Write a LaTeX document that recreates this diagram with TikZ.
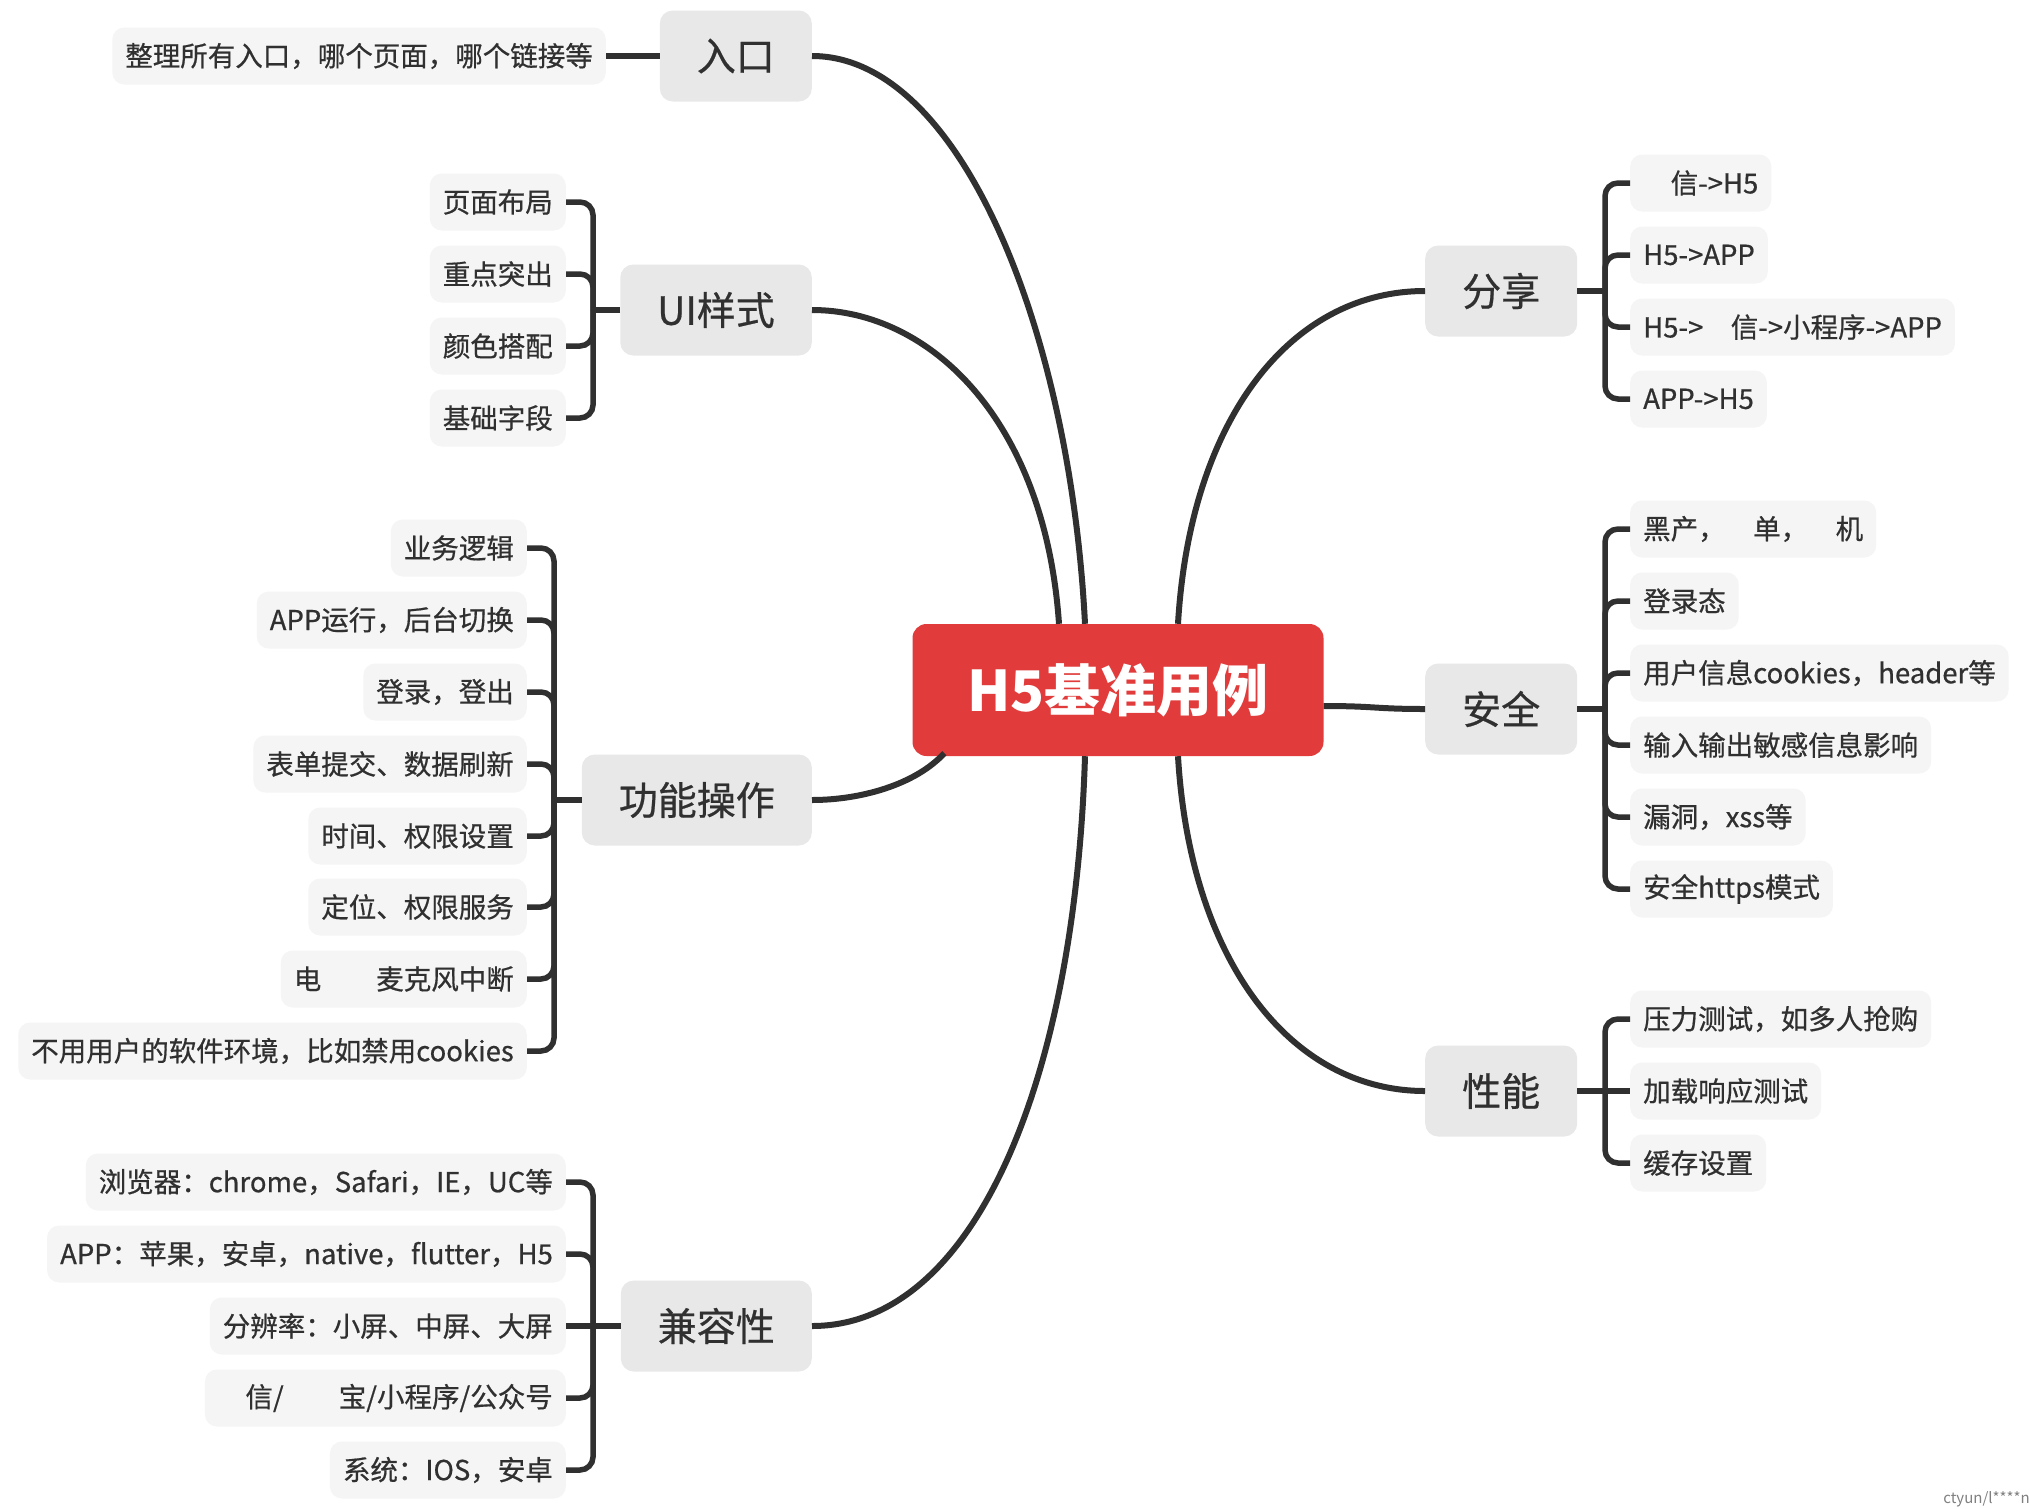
\documentclass[tikz,border=0pt]{standalone}
\usepackage{fontspec}
\newfontfamily\cjk{Noto Sans CJK SC}
\newfontfamily\cjkm{Noto Sans CJK SC}[FakeBold=0.6]
\usetikzlibrary{calc}
\definecolor{cred}{RGB}{225,59,59}
\definecolor{branchfill}{RGB}{232,232,232}
\definecolor{leaffill}{RGB}{245,245,245}
\definecolor{ink}{RGB}{48,48,48}
\definecolor{wm}{RGB}{128,128,128}
\tikzset{
  centernode/.style={fill=cred, rounded corners=14, minimum width=411, minimum height=132, text=white, font=\cjk\bfseries\fontsize{56}{64}\selectfont, inner sep=0},
  branchnode/.style={fill=branchfill, rounded corners=13, minimum height=91, inner xsep=37, inner ysep=0, text=ink, font=\cjkm\fontsize{39}{46}\selectfont},
  leafnode/.style={fill=leaffill, rounded corners=12, minimum height=57, inner xsep=13, inner ysep=0, text=ink, font=\cjkm\fontsize{27.5}{33}\selectfont},
  mainline/.style={draw=ink, line width=6},
  leafline/.style={draw=ink, line width=5.5, rounded corners=13},
}
\begin{document}
\begin{tikzpicture}[x=1pt,y=-1pt]
\useasboundingbox[fill=white] (0,0) rectangle (2030,1508);

% center
\node[centernode] (c) at (1118,690) {H5基准用例};

% branches
\node[branchnode, anchor=east] (ruk) at (812,56) {入口};
\node[branchnode, anchor=east] (ui) at (812,310) {UI样式};
\node[branchnode, anchor=east] (func) at (812,800) {功能操作};
\node[branchnode, anchor=east] (compat) at (812,1326) {兼容性};
\node[branchnode, anchor=west] (share) at (1425,291) {分享};
\node[branchnode, anchor=west] (sec) at (1425,709) {安全};
\node[branchnode, anchor=west] (perf) at (1425,1091) {性能};

% main curves
\draw[mainline] ($(c.north)+(-33,0)$) .. controls (1070,330) and (960,56) .. (ruk.east);
\draw[mainline] ($(c.north)+(-59,0)$) .. controls (1045,420) and (930,310) .. (ui.east);
\draw[mainline] ($(c.south west)+(32,-3)$) .. controls (915,785) and (860,800) .. (func.east);
\draw[mainline] ($(c.south)+(-33,0)$) .. controls (1075,1080) and (975,1326) .. (compat.east);
\draw[mainline] ($(c.north)+(60,0)$) .. controls (1190,420) and (1290,291) .. (share.west);
\draw[mainline] ($(c.east)+(0,16)$) .. controls (1375,706) and (1375,709) .. (sec.west);
\draw[mainline] ($(c.south)+(60,0)$) .. controls (1190,960) and (1290,1091) .. (perf.west);

% 入口 leaf
\node[leafnode, anchor=east] (r1) at (606,56) {整理所有入口，哪个页面，哪个链接等};
\draw[leafline] (r1.east) -- (ruk.west);

% UI leaves
\node[leafnode, anchor=east] (u1) at (566,202) {页面布局};
\node[leafnode, anchor=east] (u2) at (566,274) {重点突出};
\node[leafnode, anchor=east] (u3) at (566,346) {颜色搭配};
\node[leafnode, anchor=east] (u4) at (566,418) {基础字段};
\coordinate (ju) at (593,310);
\draw[leafline] (ui.west) -- (ju);
\foreach \n in {u1,u2,u3,u4} \draw[leafline] (ju) |- (\n.east);

% function leaves
\node[leafnode, anchor=east] (f1) at (527,548) {业务逻辑};
\node[leafnode, anchor=east] (f2) at (527,620) {APP运行，后台切换};
\node[leafnode, anchor=east] (f3) at (527,692) {登录，登出};
\node[leafnode, anchor=east] (f4) at (527,764) {表单提交、数据刷新};
\node[leafnode, anchor=east] (f5) at (527,836) {时间、权限设置};
\node[leafnode, anchor=east] (f6) at (527,907) {定位、权限服务};
\node[leafnode, anchor=east] (f7) at (527,979) {电\phantom{话、}麦克风中断};
\node[leafnode, anchor=east] (f8) at (527,1051) {不用用户的软件环境，比如禁用cookies};
\coordinate (jf) at (554,800);
\draw[leafline] (func.west) -- (jf);
\foreach \n in {f1,f2,f3,f4,f5,f6,f7,f8} \draw[leafline] (jf) |- (\n.east);

% compat leaves
\node[leafnode, anchor=east] (k1) at (566,1182) {浏览器：chrome，Safari，IE，UC等};
\node[leafnode, anchor=east] (k2) at (566,1254) {APP：苹果，安卓，native，flutter，H5};
\node[leafnode, anchor=east] (k3) at (566,1326) {分辨率：小屏、中屏、大屏};
\node[leafnode, anchor=east] (k4) at (566,1398) {\phantom{微}信/\phantom{支付}宝/小程序/公众号};
\node[leafnode, anchor=east] (k5) at (566,1470) {系统：IOS，安卓};
\coordinate (jk) at (593,1326);
\draw[leafline] (compat.west) -- (k3.east);
\foreach \n in {k1,k2,k4,k5} \draw[leafline] (jk) |- (\n.east);

% share leaves
\node[leafnode, anchor=west] (s1) at (1630,183) {\phantom{微}信->H5};
\node[leafnode, anchor=west] (s2) at (1630,255) {H5->APP};
\node[leafnode, anchor=west] (s3) at (1630,327) {H5->\phantom{微}信->小程序->APP};
\node[leafnode, anchor=west] (s4) at (1630,399) {APP->H5};
\coordinate (js) at (1605,291);
\draw[leafline] (share.east) -- (js);
\foreach \n in {s1,s2,s3,s4} \draw[leafline] (js) |- (\n.west);

% security leaves
\node[leafnode, anchor=west] (a1) at (1630,529) {黑产，\phantom{刷}单，\phantom{刷}机};
\node[leafnode, anchor=west] (a2) at (1630,601) {登录态};
\node[leafnode, anchor=west] (a3) at (1630,673) {用户信息cookies，header等};
\node[leafnode, anchor=west] (a4) at (1630,745) {输入输出敏感信息影响};
\node[leafnode, anchor=west] (a5) at (1630,817) {漏洞，xss等};
\node[leafnode, anchor=west] (a6) at (1630,889) {安全https模式};
\coordinate (ja) at (1605,709);
\draw[leafline] (sec.east) -- (ja);
\foreach \n in {a1,a2,a3,a4,a5,a6} \draw[leafline] (ja) |- (\n.west);

% performance leaves
\node[leafnode, anchor=west] (p1) at (1630,1019) {压力测试，如多人抢购};
\node[leafnode, anchor=west] (p2) at (1630,1091) {加载响应测试};
\node[leafnode, anchor=west] (p3) at (1630,1163) {缓存设置};
\coordinate (jp) at (1605,1091);
\draw[leafline] (perf.east) -- (p2.west);
\foreach \n in {p1,p3} \draw[leafline] (jp) |- (\n.west);

% watermark
\node[anchor=east, inner sep=0, text=wm, font=\cjk\fontsize{15}{18}\selectfont] (wmk) at (2030,1499) {ctyun/l****n};
\end{tikzpicture}
\end{document}
